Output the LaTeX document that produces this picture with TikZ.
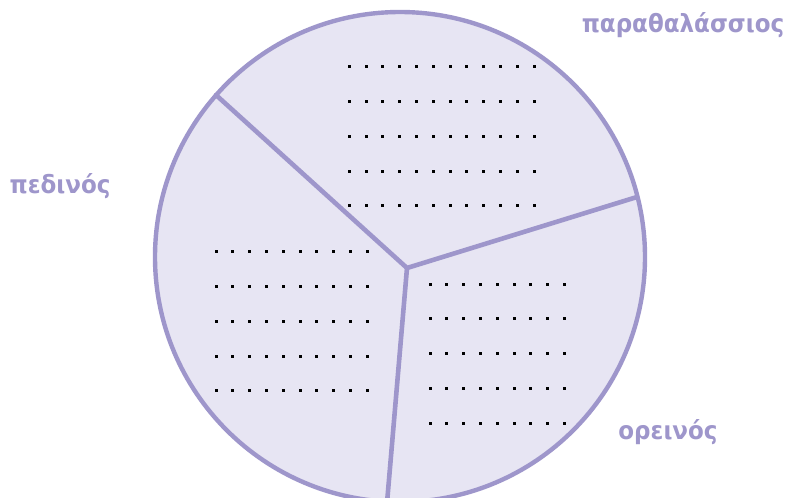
\documentclass[tikz,border=0pt]{standalone}
\usepackage{fontspec}
\setmainfont{DejaVu Sans}
\definecolor{regionline}{RGB}{158,150,203}
\definecolor{regionfill}{RGB}{231,229,243}

\begin{document}
\begin{tikzpicture}[x=1pt, y=-1pt,
  rim/.style   = {draw=regionline, line width=4.4pt, fill=regionfill},
  spoke/.style = {draw=regionline, line width=4.6pt, line cap=round, line join=round},
  lbl/.style   = {font=\fontsize{25}{29}\selectfont\bfseries, text=regionline,
                  inner sep=0pt, xscale=0.92},
  speck/.style = {fill=black}]

\useasboundingbox (0,0) rectangle (785,498);
\clip (0,0) rectangle (785,498);

% the disc and its three sectors
\fill[rim] (400,257) circle (245);
\coordinate (hub) at (407,268);
\coordinate (nw)  at (216,95);
\coordinate (e)   at (637,197);
\coordinate (s)   at (387,503);
\draw[spoke] (nw) -- (hub) -- (e);
\draw[spoke] (hub) -- (s);

% dotted writing lines in each sector
\foreach \x/\y/\nc in {349.3/66.7/11, 216/251.7/9, 430/284/8}
  \foreach \c in {0,...,\nc}
    \foreach \r in {0,...,4}
      \fill[speck] (\x+16.8*\c-1.5, \y+34.8*\r-1.5) rectangle ++(3,3);

% sector names
\node[lbl] (coast)    at (683,25)  {παραθαλάσσιος};
\node[lbl] (lowland)  at (60,186)  {πεδινός};
\node[lbl] (mountain) at (668,432) {ορεινός};

\end{tikzpicture}
\end{document}
